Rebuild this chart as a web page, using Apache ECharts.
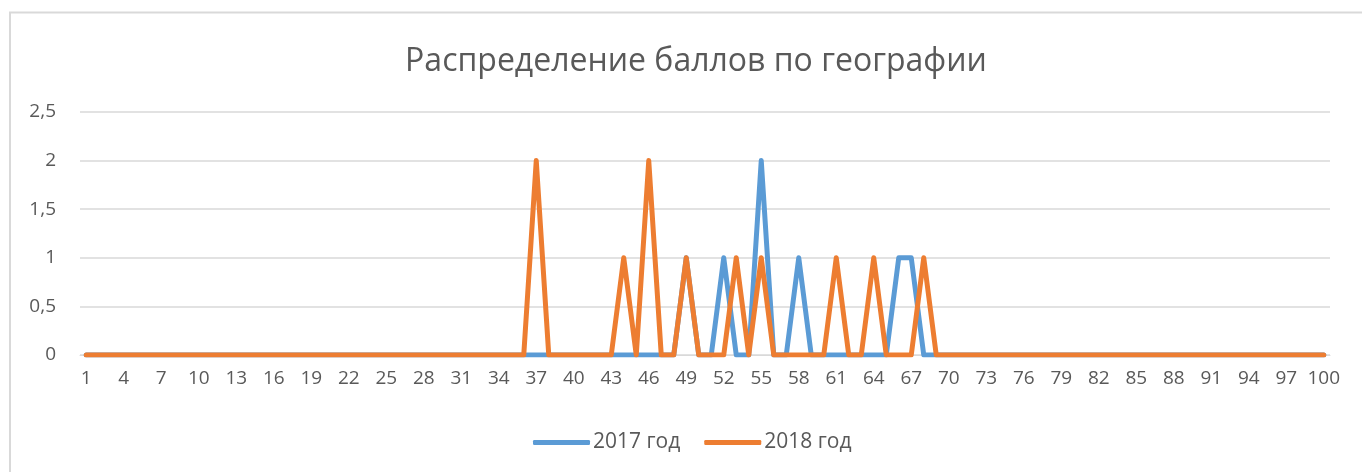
<!DOCTYPE html>
<html lang="ru">
<head>
    <meta charset="UTF-8">
    <title>Распределение баллов по географии</title>
    <script src="https://cdn.jsdelivr.net/npm/echarts@6/dist/echarts.min.js"></script>
    <style>
        html,body{
            margin:0;
            padding:0;
            background:#fff;
        }
        #chart{
            width:1362px;
            height:472px;
        }
    </style>
</head>
<body>
    <div id="chart"></div>
    <script>
        // scores 1..100
        var scores = [];
        for (var i = 1; i <= 100; i++) scores.push(String(i));

        var yTicks = [0, 0.5, 1, 1.5, 2, 2.5];

        // number of students per score, rows of 10 (1-10, 11-20, ...)
        var year2017 = [
            0,0,0,0,0,0,0,0,0,0,
            0,0,0,0,0,0,0,0,0,0,
            0,0,0,0,0,0,0,0,0,0,
            0,0,0,0,0,0,0,0,0,0,
            0,0,0,0,0,0,0,0,1,0,
            0,1,0,0,2,0,0,1,0,0,
            0,0,0,0,0,1,1,0,0,0,
            0,0,0,0,0,0,0,0,0,0,
            0,0,0,0,0,0,0,0,0,0,
            0,0,0,0,0,0,0,0,0,0
        ];
        var year2018 = [
            0,0,0,0,0,0,0,0,0,0,
            0,0,0,0,0,0,0,0,0,0,
            0,0,0,0,0,0,0,0,0,0,
            0,0,0,0,0,0,2,0,0,0,
            0,0,0,1,0,2,0,0,1,0,
            0,0,1,0,1,0,0,0,0,0,
            1,0,0,1,0,0,0,1,0,0,
            0,0,0,0,0,0,0,0,0,0,
            0,0,0,0,0,0,0,0,0,0,
            0,0,0,0,0,0,0,0,0,0
        ];

        var font = '"Open Sans", "Noto Sans", sans-serif';
        var chart = echarts.init(document.getElementById('chart'));
        var option = {
            backgroundColor: '#fff',
            animation: false,
            textStyle: {fontFamily: font},
            title: {
                text: 'Распределение баллов по географии',
                left: 691,
                textAlign: 'center',
                top: 41,
                textStyle: {
                    fontFamily: font,
                    fontWeight: 'normal',
                    fontSize: 32,
                    color: '#595959'
                }
            },
            graphic: [{
                type: 'rect',
                shape: {x: 10, y: 12.5, width: 1400, height: 500},
                style: {fill: 'none', stroke: '#d9d9d9', lineWidth: 2},
                silent: true,
                z: -1
            }],
            legend: {
                left: 528,
                top: 427,
                icon: 'roundRect',
                itemWidth: 57,
                itemHeight: 5,
                itemGap: 24,
                textStyle: {fontSize: 21, color: '#595959', fontFamily: font, padding: [0, 0, 0, -2]},
                data: ['2017 год', '2018 год']
            },
            grid: {
                left: 80,
                right: 32,
                top: 112,
                bottom: 117,
                containLabel: false
            },
            xAxis: {
                type: 'category',
                data: scores,
                boundaryGap: true,
                axisTick: {show: false},
                axisLine: {lineStyle: {color: '#d9d9d9', width: 1}},
                axisLabel: {
                    interval: 2,
                    margin: 14,
                    fontSize: 19,
                    color: '#595959',
                    fontFamily: font
                }
            },
            yAxis: {
                type: 'value',
                min: yTicks[0],
                max: yTicks[yTicks.length - 1],
                interval: 0.5,
                axisLine: {show: false},
                axisTick: {show: false},
                splitLine: {lineStyle: {color: '#d9d9d9', width: 1.5}},
                axisLabel: {
                    margin: 24,
                    fontSize: 19,
                    color: '#595959',
                    fontFamily: font,
                    formatter: function (v) { return String(v).replace('.', ','); }
                }
            },
            series: [{
                name: '2017 год',
                type: 'line',
                data: year2017,
                symbol: 'none',
                color: '#5b9bd5',
                lineStyle: {width: 5, color: '#5b9bd5', cap: 'round', join: 'round'}
            }, {
                name: '2018 год',
                type: 'line',
                data: year2018,
                symbol: 'none',
                color: '#ed7d31',
                lineStyle: {width: 5, color: '#ed7d31', cap: 'round', join: 'round'}
            }]
        };
        chart.setOption(option);
    </script>
</body>
</html>
